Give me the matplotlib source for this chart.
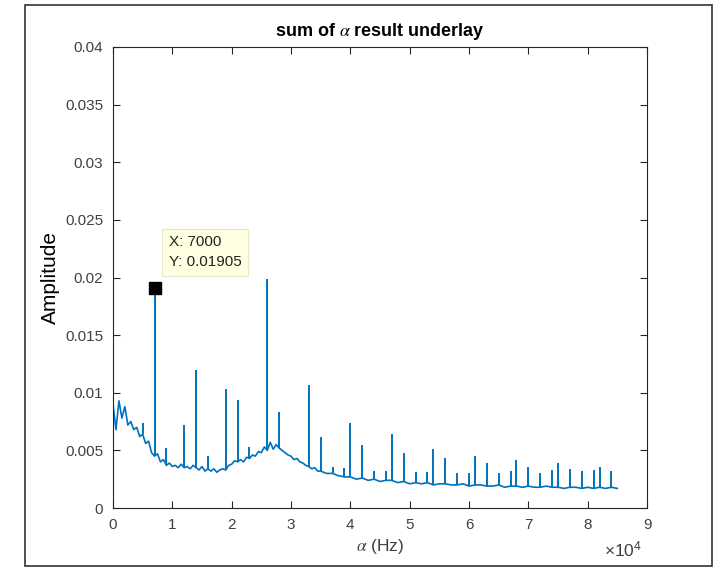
import numpy as np
import matplotlib
matplotlib.use('Agg')
import matplotlib.pyplot as plt
from matplotlib.patches import Rectangle
from matplotlib.ticker import FormatStrFormatter

plt.rcParams['font.family'] = ['Liberation Sans', 'DejaVu Sans']
plt.rcParams['mathtext.fontset'] = 'stix'

# baseline of the spectrum: every 500 Hz up to 34500, then every 1000 Hz to 85000
freq = np.concatenate([np.arange(0, 35000, 500), np.arange(35000, 86000, 1000)])
base_amp = [0.0090, 0.0068, 0.0093, 0.0078, 0.0088, 0.0072, 0.0075, 0.0068, 0.0070, 0.0062,
            0.0064, 0.0056, 0.0058, 0.0048, 0.0045, 0.0047, 0.0040, 0.0042, 0.0037, 0.0039,
            0.0036, 0.0037, 0.0035, 0.0038, 0.0035, 0.0036, 0.0034, 0.0037, 0.0035, 0.0033,
            0.0036, 0.0032, 0.0034, 0.0032, 0.0034, 0.0031, 0.0033, 0.0034, 0.0033, 0.0037,
            0.0038, 0.0041, 0.0040, 0.0042, 0.0040, 0.0044, 0.0043, 0.0046, 0.0045, 0.0049,
            0.0048, 0.0053, 0.0050, 0.0057, 0.0051, 0.0055, 0.0052, 0.0050, 0.0048, 0.0046,
            0.0045, 0.0042, 0.0043, 0.0040, 0.0039, 0.0037, 0.0036, 0.0034, 0.0035, 0.0032,
            # 35000 ..
            0.0032, 0.0030, 0.0030, 0.0028, 0.0027, 0.0027, 0.0025, 0.0026, 0.0024, 0.0025,
            0.0023, 0.0024, 0.0024, 0.0022, 0.0023, 0.0021, 0.0022, 0.0021, 0.0022, 0.0020,
            0.0021, 0.0021, 0.0020, 0.0020, 0.0021, 0.0019, 0.0020, 0.0020, 0.0019, 0.0019,
            0.0020, 0.0018, 0.0019, 0.0019, 0.0018, 0.0019, 0.0018, 0.0018, 0.0019, 0.0018,
            0.0018, 0.0017, 0.0018, 0.0018, 0.0017, 0.0018, 0.0017, 0.0018, 0.0017, 0.0018,
            0.0017]

# narrow peaks (cycle frequencies)
spike_x = [0, 5000, 7000, 9000, 12000, 14000, 16000, 19000, 21000, 23000, 26000, 28000,
           33000, 35000, 37000, 39000, 40000, 42000, 44000, 46000, 47000, 49000, 51000,
           53000, 54000, 56000, 58000, 60000, 61000, 63000, 65000, 67000, 68000, 70000,
           72000, 74000, 75000, 77000, 79000, 81000, 82000, 84000]
spike_y = [0.0400, 0.0074, 0.01905, 0.0052, 0.0072, 0.0120, 0.0045, 0.0103, 0.0094, 0.0053,
           0.0199, 0.0083, 0.0107, 0.0062, 0.0036, 0.0035, 0.0074, 0.0055, 0.0032, 0.0032,
           0.0064, 0.0048, 0.0031, 0.0031, 0.0051, 0.0043, 0.0030, 0.0030, 0.0045, 0.0039,
           0.0030, 0.0032, 0.0042, 0.0036, 0.0030, 0.0033, 0.0039, 0.0034, 0.0032, 0.0033,
           0.0036, 0.0032]

tip_x, tip_y = 7000, 0.01905

line_col = '#0072BD'
ax_col = '#262626'
tick_col = '#404040'

fig = plt.figure(figsize=(7.19, 5.69), dpi=100)
ax = fig.add_axes([113/719, 1-508/569, (647-113)/719, (508-47)/569])

base_lookup = dict(zip(freq.tolist(), base_amp))
ax.plot(freq, base_amp, color=line_col, lw=1.2)
spike_base = [base_lookup[s] for s in spike_x]
ax.vlines(spike_x, spike_base, spike_y, color=line_col, lw=1.4)

ax.set_xlim(0, 90000)
ax.set_ylim(0, 0.04)
ax.set_xticks(np.arange(0, 90001, 10000))
ax.set_xticklabels([str(i) for i in range(10)])
ax.set_yticks(np.arange(0, 0.0401, 0.005))
ax.yaxis.set_major_formatter(FormatStrFormatter('%g'))
ax.tick_params(direction='in', top=True, right=True, length=5, width=0.8,
               colors=ax_col, labelcolor=tick_col, labelsize=11, pad=7)
for sp in ax.spines.values():
    sp.set_color(ax_col)
    sp.set_linewidth(0.8)

ax.set_title(r'sum of $\alpha$ result underlay', fontsize=13, fontweight='bold', pad=8)
ax.set_ylabel('Amplitude', fontsize=15, labelpad=4, color='black')
ax.set_xlabel(r'$\alpha$ (Hz)', fontsize=12.5, labelpad=4, color=tick_col)
ax.text(0.99, -0.068, r'$\mathregular{\times 10^4}$', transform=ax.transAxes,
        ha='right', va='top', fontsize=12.5, color=tick_col)

# data tip
ax.plot([tip_x], [tip_y], marker='s', ms=8, color='black', zorder=5)
ax.annotate('X: %d\nY: %.5f' % (tip_x, tip_y), xy=(tip_x, tip_y),
            xytext=(14, 19), textcoords='offset pixels', ha='left', va='bottom',
            fontsize=11, color='#222222', linespacing=1.55,
            bbox=dict(boxstyle='square,pad=0.45', fc='#FFFFE1', ec='#E6E6C8', lw=0.8))

# screenshot frame
fig.patches.append(Rectangle((25/719, 1-566/569), (712-25)/719, (566-5)/569,
                             transform=fig.transFigure, fill=False, ec='#333333', lw=1.2))

fig.savefig('out.png', dpi=100)
